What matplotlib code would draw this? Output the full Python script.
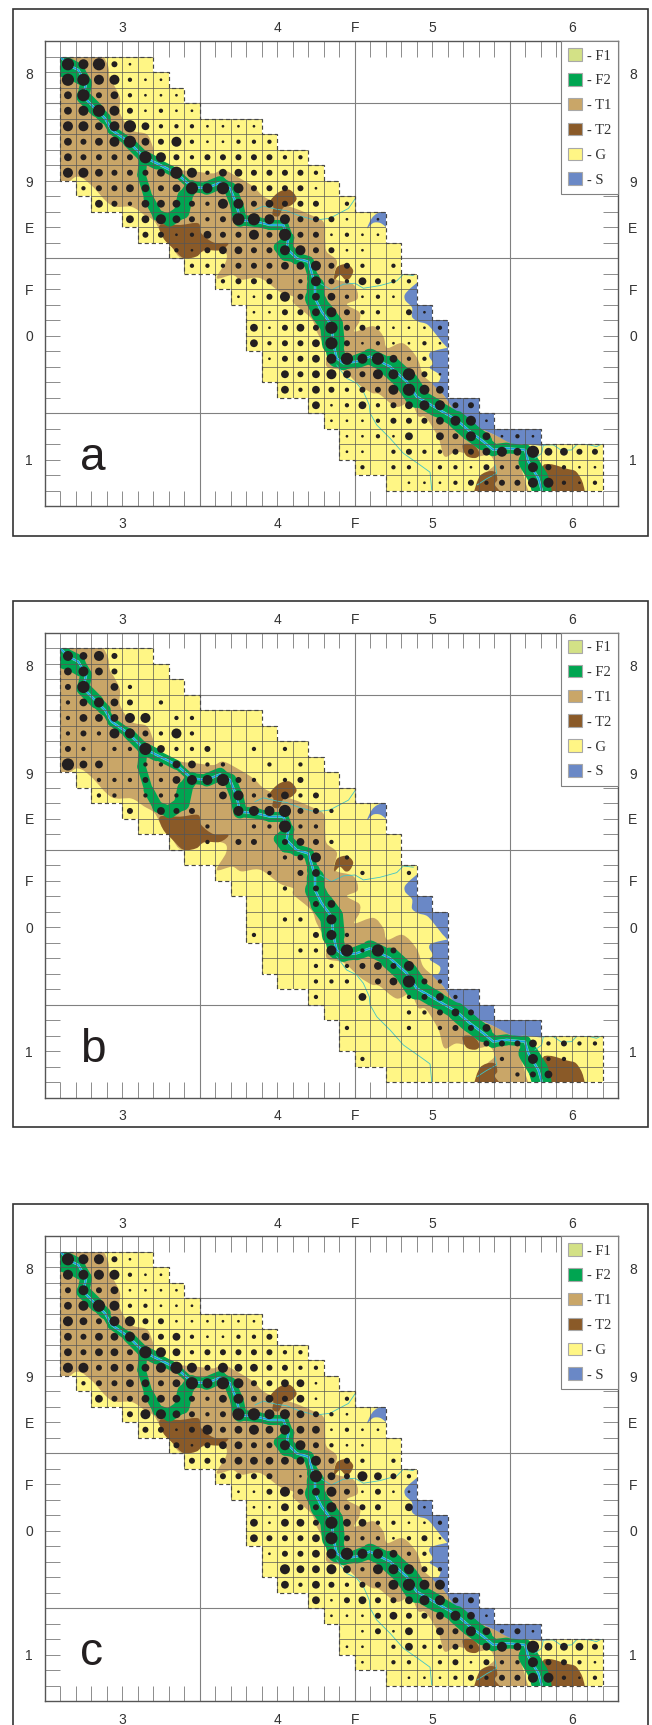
import numpy as np
import matplotlib
matplotlib.use('Agg')
import matplotlib.pyplot as plt
from matplotlib.collections import LineCollection
from matplotlib.patches import PathPatch, Patch, Rectangle
from matplotlib.path import Path

plt.rcParams['font.family'] = ['Liberation Sans', 'DejaVu Sans']

# surveyed cells: first and last column of rows 1..28
ROW_FIRST = [1, 1, 1, 1, 1, 1, 1, 1, 2, 3, 5, 6, 8, 9, 11, 12, 13, 13, 13, 14, 14, 15, 17, 18, 19, 19, 20, 22]
ROW_LAST = [6, 7, 8, 9, 13, 14, 16, 17, 18, 19, 21, 21, 22, 22, 23, 23, 24, 25, 25, 25, 25, 25, 27, 28, 31, 35, 35, 35]

# dot class per cell, one string per row, 0 = no dot
DOTS_A = ["656310", "6655211", "46342111", "456531211", "5545642221111", "43456435211222",
          "4333365323333322", "55433346524433332", "23344346565333310", "43244432553433302",
          "44543236655333101", "3312433536331211", "213443355331100", "22233344533202",
          "2333025324322", "113534421210", "113345322031", "4134363321112", "4233463121121",
          "133456564220", "043454355631", "42432335654", "41242345533", "11123334551",
          "1121404354121", "11023223345464433", "2022022132253211", "01112323355212"]
DOTS_B = ["545300", "4543000", "36042000", "245430200", "2444550220000", "23255325200000",
          "3202264223002020", "64400224422002020", "02223245563202300", "22022200452242300",
          "30433005556332000", "0000200226220000", "002033034320000", "00000023502000",
          "0002034002002", "000203000000", "000034000000", "0022050000000", "2000352000000",
          "002256263000", "000222343500", "00222034632", "20040023420", "00000223430",
          "2000202334000", "00000000033342322", "2000000002052200", "00000000234000"]
DOTS_C = ["655310", "5555211", "35341111", "456522111", "5435533111111", "43445434211223",
          "4344365423333322", "55344456535443322", "23344346565334410", "43344432453434102",
          "35543236655432100", "3313534545441211", "313443355321100", "33344444533202",
          "3333016435432", "113534531311", "114335333041", "4144364422112", "4333463221231",
          "133456554220", "054454255532", "42432335655", "41343345533", "11134334541",
          "0131404354231", "11024223245464443", "1022023132253321", "01112323355212"]
PANEL_NAMES = ['a', 'b', 'c']
PANEL_DOTS = [DOTS_A, DOTS_B, DOTS_C]

# map outlines, in grid cells
T1_OUTLINE = [(0.5, 0.5), (3.5, 0.5), (3.8, 1), (4.1, 1.65), (4.2, 2.4), (4.5, 2.9), (4.86, 3.7), (4.86, 4.67),
              (5.6, 5.74), (6.58, 6.02), (6.97, 6.82), (7.23, 7.68), (8.52, 8.26), (9.8, 8.43), (10.88, 8.54),
              (11.53, 8.32), (12.6, 8.86), (13.46, 9.4), (14.32, 10.15), (16.15, 10.8), (17.1, 11.2), (18, 11.7),
              (18.1, 12.9), (18.2, 13.6), (18.85, 14.2), (18.7, 15.3), (19.9, 15.7), (20.2, 16.6), (19.5, 17),
              (20.3, 17.5), (20.3, 18.1), (20, 18.75), (21.2, 18.4), (21.85, 19.07), (22.1, 19.8), (23.1, 19.5),
              (24, 20.4), (24.4, 21.5), (25, 22.1), (25.7, 22.8), (26.4, 23.8), (27.2, 24.4), (27.9, 24.9),
              (29, 25.4), (30.2, 26), (31, 26.7), (30.8, 27.6), (31, 28.4), (31.1, 29.5), (29, 29.5), (28.5, 28),
              (29, 27.35), (28.7, 26.7), (27.9, 26.8), (26.6, 26.5), (25.8, 26.8), (25.4, 25.6), (24.6, 24.3),
              (24.1, 24.2), (23.6, 23.3), (22.7, 23.6), (21.6, 22.8), (21.1, 22.7), (20.3, 22.2), (19.3, 21.3),
              (18.2, 21), (18.2, 20), (17.55, 18.75), (17.2, 17.9), (16.05, 16.9), (16.05, 16.5), (15.2, 16.2),
              (13.9, 15.3), (12.7, 15.4), (12.1, 15.1), (11.1, 15.3), (11.7, 14.2), (11.6, 13.6), (10.5, 13.5),
              (8.9, 14), (8.2, 13.3), (7.65, 12.7), (7.1, 11.65), (6.4, 11.2), (5.6, 10.7), (4.3, 10.6),
              (3, 9.3), (2.1, 8.75), (0.5, 9)]
T2_BLOBS = [
    [(7.44, 11.87), (8.73, 11.87), (9.9, 11.76), (10.1, 12.4), (10.9, 13), (11.85, 13.05), (11.3, 13.5),
     (10.3, 13.5), (9.8, 13.9), (8.95, 14), (8.2, 13.3), (7.65, 12.7)],
    [(14.5, 10.4), (15.1, 9.75), (15.8, 9.6), (16.25, 10.15), (15.9, 10.6), (15.4, 10.75), (15.1, 11.3),
     (14.7, 11.2), (14.75, 10.7)],
    [(18.7, 15), (18.9, 14.55), (19.5, 14.4), (19.9, 14.8), (19.7, 15.3), (19.4, 15.4), (19.05, 15.1), (18.7, 15.4)],
    [(26.97, 26.06), (27.65, 26.06), (28.05, 26.6), (27.8, 26.9), (27.2, 26.75)],
    [(27.8, 29.4), (28, 28.2), (28.5, 27.8), (29.05, 27.8), (29.2, 28.3), (29.05, 28.64), (29.5, 29.4)],
    [(32.1, 27.56), (32.6, 27.3), (33.7, 27.6), (34.3, 27.8), (34.75, 28.64), (34.6, 29.4), (32.2, 29.4)],
]
S_BLOBS = [
    [(24.4, 15.5), (23.35, 16.2), (23.25, 16.7), (23.7, 17.2), (23.7, 17.8), (24.1, 18.1), (24.7, 18.3), (25.3, 19),
     (25.8, 19.6), (26.5, 20.1), (26.8, 18), (25.5, 16.5)],
    [(26.5, 19.95), (25.1, 20), (24.8, 20.3), (25.05, 20.8), (24.85, 21.1), (25.5, 21.55), (25.4, 22), (25, 22.1),
     (25.7, 22.8), (26.4, 23.8), (27.2, 24.4), (27.9, 24.9), (29, 25.4), (30.2, 26), (31, 26), (32.5, 26),
     (33, 24.5), (29.5, 23.5), (27, 22)],
    [(20.8, 12.08), (21.1, 11.44), (21.5, 11.1), (22.3, 10.9), (22.3, 12.1), (21.7, 11.76), (21.4, 11.7), (21.15, 11.76)],
]

# main river centreline and width of the F2 belt along it
RIVER_X = [1.01, 1.53, 2.17, 2.67, 2.49, 3.35, 3.89, 4.32, 5.4, 6.37, 7.23, 8.52, 9.48, 10.45, 11.31, 11.96, 12.39,
           12.6, 13.68, 14.54, 15.4, 15.72, 15.61, 16.26, 17.01, 17.33, 17.44, 17.44, 17.87, 18.51, 18.62, 18.84,
           19.27, 20.13, 20.99, 22.28, 23.35, 24, 25.29, 26.58, 27.44, 28.3, 28.94, 29.8, 30.99, 31.2, 31.85, 32.06]
RIVER_Y = [1.01, 1.55, 1.87, 2.73, 3.59, 4.45, 4.99, 5.74, 6.49, 7.46, 7.89, 8.54, 9.4, 9.5, 9.14, 9.5, 10.58, 11.55,
           11.66, 11.87, 11.87, 12.73, 13.38, 14.02, 14.24, 15.31, 15.74, 16.6, 17.46, 18.32, 19.5, 20.47, 20.79,
           20.68, 20.36, 21, 21.97, 22.94, 23.69, 24.45, 25.2, 25.84, 26.38, 26.27, 26.38, 27.13, 28.21, 28.96]
F2_WIDTH = [0.55, 1.0, 0.8, 0.75, 0.8, 1.0, 0.5, 0.5, 0.65, 0.8, 0.8, 0.45, 0.5, 0.9, 0.8, 0.65, 1.0, 0.75, 0.65, 0.65,
            0.65, 0.65, 0.8, 0.8, 0.65, 0.65, 1.0, 1.25, 1.35, 1.6, 1.35, 1.0, 0.8, 0.8, 1.0, 1.05, 1.7, 1.25, 1.0, 1.05,
            1.3, 1.0, 0.65, 0.8, 0.5, 1.05, 1.5, 1.05]

# side belts of F2: loop below the river and the patch near column 16
F2_BRANCHES = [
    ([6.37, 6.25, 6.7, 7.3, 8.05, 8.85, 9.05, 9.48], [7.46, 8.65, 10.15, 11.25, 11.55, 11.0, 10.05, 9.4],
     [0.6, 0.5, 0.6, 0.7, 0.75, 0.95, 1.05, 0.65]),
    ([15.8, 15.1, 15.5, 16.26], [12.7, 13.3, 13.85, 14.0], [0.6, 0.65, 0.65, 0.6]),
    ([1.0, 1.6, 2.3], [1.9, 2.1, 2.5], [0.75, 0.7, 0.6]),
]

# thin tributaries
TRIBUTARIES = [
    [(13.57, 10.9), (14.1, 10.65), (14.97, 10.86), (15.6, 10.95), (16.47, 11.29), (17.44, 11.55), (18.4, 11.44),
     (18.84, 11.2), (19.6, 10.8), (20.04, 10.16)],
    [(17.76, 15.63), (18.5, 16.06), (19.27, 15.69), (20.02, 15.63), (20.56, 15.95), (21.63, 15.78), (22.71, 15.48),
     (23.14, 15.05), (23.78, 15.13)],
    [(18.84, 20.9), (19.48, 21.76), (20.13, 22.08), (20.56, 22.62), (20.94, 23.48), (20.99, 24.01), (21.42, 24.77),
     (22.28, 25.63), (23.14, 26.6), (24.21, 27.35), (24.86, 27.82), (24.97, 28.96)],
    [(31.63, 26.92), (32.06, 26.6), (32.17, 26.06), (32.82, 26.06), (33.35, 26.42), (34, 26.38), (34.36, 26),
     (35.18, 26.06), (35.6, 26.17), (35.93, 26)],
    [(29.05, 27.35), (29.16, 27.89), (28.5, 28.25), (27.9, 28.64)],
]

X_TICKS = [5, 15, 20, 25, 34]
X_LABELS = ['3', '4', 'F', '5', '6']
Y_TICKS = [2.2, 9.15, 12.1, 16.1, 19.1, 27.1]
Y_LABELS = ['8', '9', 'E', 'F', '0', '1']
LEGEND_LABELS = ['- F1', '- F2', '- T1', '- T2', '- G', '- S']
LEGEND_COLORS = ['#d3e186', '#00a551', '#c9a668', '#8a5a28', '#fff685', '#6a88c6']
DOT_DIAMETERS = [0, 2.7, 4.3, 6.0, 7.8, 10.0, 12.2]   # px per class

W, H = 652, 1725
CELL = 15.5        # px per grid cell
LEFT, TOP = 44.7, 41
PANEL_OFFSETS = [0, 591.7, 1195]
PX = 0.72          # points per px at dpi 100
T1_COL, T2_COL, F2_COL, G_COL, S_COL = '#c9a668', '#8a5a28', '#00a551', '#fff685', '#6a88c6'


def smooth_path(points):
    # closed Catmull-Rom outline as bezier curves
    pts = np.array(points, dtype=float)
    n = len(pts)
    verts = [pts[0]]
    codes = [Path.MOVETO]
    for i in range(n):
        p0, p1, p2, p3 = pts[i - 1], pts[i], pts[(i + 1) % n], pts[(i + 2) % n]
        verts += [p1 + (p2 - p0) / 6, p2 - (p3 - p1) / 6, p2]
        codes += [Path.CURVE4] * 3
    return Path(verts, codes)


def region_outline():
    # stepped outline of the surveyed cells
    verts = []
    for r, last in enumerate(ROW_LAST, start=1):
        verts += [(last + 1, r), (last + 1, r + 1)]
    for r, first in reversed(list(enumerate(ROW_FIRST, start=1))):
        verts += [(first, r + 1), (first, r)]
    verts.append(verts[0])
    return Path(verts, closed=True)


def belt(ax, xs, ys, widths, clip):
    xs, ys, widths = np.array(xs), np.array(ys), np.array(widths)
    segs = np.stack([np.column_stack([xs[:-1], ys[:-1]]), np.column_stack([xs[1:], ys[1:]])], axis=1)
    lw = (widths[:-1] + widths[1:]) / 2 * CELL * PX
    lc = LineCollection(segs, linewidths=lw, colors=F2_COL, capstyle='round', zorder=5)
    ax.add_collection(lc)
    lc.set_clip_path(clip)


def draw_panel(ax, name, dots):
    ax.set_xlim(0, 37)
    ax.set_ylim(30, 0)
    ax.set_xticks([])
    ax.set_yticks([])
    for s in ax.spines.values():
        s.set_color('#555555')
        s.set_linewidth(1.0)

    # surveyed area
    outline = region_outline()
    region = PathPatch(outline, facecolor=G_COL, edgecolor='none', zorder=1)
    ax.add_patch(region)

    # geology layers
    p = PathPatch(smooth_path(T1_OUTLINE), facecolor=T1_COL, edgecolor='none', zorder=2)
    ax.add_patch(p)
    p.set_clip_path(region)
    for blob in S_BLOBS:
        p = PathPatch(smooth_path(blob), facecolor=S_COL, edgecolor='none', zorder=3)
        ax.add_patch(p)
        p.set_clip_path(region)
    for blob in T2_BLOBS:
        p = PathPatch(smooth_path(blob), facecolor=T2_COL, edgecolor='none', zorder=4)
        ax.add_patch(p)
        p.set_clip_path(region)

    belt(ax, RIVER_X, RIVER_Y, F2_WIDTH, region)
    for bx, by, bw in F2_BRANCHES:
        belt(ax, bx, by, bw, region)

    # rivers
    for trib in TRIBUTARIES:
        tx, ty = zip(*trib)
        line, = ax.plot(tx, ty, color='#3fc4c8', lw=0.6, zorder=6)
        line.set_clip_path(region)
    halo, = ax.plot(RIVER_X, RIVER_Y, color='#a8e0cc', lw=1.7, zorder=6, solid_joinstyle='round')
    halo.set_clip_path(region)
    river, = ax.plot(RIVER_X, RIVER_Y, color='#14a5e0', lw=1.2, zorder=6, solid_joinstyle='round')
    river.set_clip_path(region)

    # grid inside the area, ticks round it
    gv = ax.vlines(range(1, 37), 1, 29, color='#555555', lw=0.5, zorder=7)
    gh = ax.hlines(range(1, 30), 1, 36, color='#555555', lw=0.5, zorder=7)
    gv.set_clip_path(region)
    gh.set_clip_path(region)
    tick_col = '#8c8c8c'
    ax.vlines(range(1, 37), 0, 1, color=tick_col, lw=0.7, zorder=0.5)
    ax.vlines(range(1, 37), 29, 30, color=tick_col, lw=0.7, zorder=0.5)
    ax.hlines(range(1, 30), 0, 1, color=tick_col, lw=0.7, zorder=0.5)
    ax.hlines(range(1, 30), 36, 37, color=tick_col, lw=0.7, zorder=0.5)
    ax.vlines([10, 20, 30], 0, 30, color='#808080', lw=0.8, zorder=0.6)
    ax.hlines([4, 14, 24], 0, 37, color='#808080', lw=0.8, zorder=0.6)

    # dots
    xs, ys, sizes = [], [], []
    for r, (first, row) in enumerate(zip(ROW_FIRST, dots), start=1):
        for i, ch in enumerate(row):
            if ch != '0':
                xs.append(first + i + 0.5)
                ys.append(r + 0.5)
                sizes.append((DOT_DIAMETERS[int(ch)] * PX) ** 2)
    ax.scatter(xs, ys, s=sizes, color='#231f20', linewidths=0, zorder=8)

    ax.add_patch(PathPatch(outline, facecolor='none', edgecolor='#454545', lw=0.85,
                           linestyle=(0, (3.5, 2.5)), zorder=9))

    # labels round the frame
    xt = ax.get_xaxis_transform()
    yt = ax.get_yaxis_transform()
    for x, lab in zip(X_TICKS, X_LABELS):
        ax.text(x, 1.0 + 12.5 / (30 * CELL), lab, transform=xt, ha='center', va='center', fontsize=10, color='#333333')
        ax.text(x, -18.5 / (30 * CELL), lab, transform=xt, ha='center', va='center', fontsize=10, color='#333333')
    for y, lab in zip(Y_TICKS, Y_LABELS):
        ax.text(-15.7 / (37 * CELL), y, lab, transform=yt, ha='center', va='center', fontsize=10, color='#333333')
        ax.text(1.0 + 14.7 / (37 * CELL), y, lab, transform=yt, ha='center', va='center', fontsize=10, color='#333333')

    ax.text(2.28, 27.7, name, fontsize=33, color='#231f20', ha='left', va='baseline', zorder=10)

    handles = [Patch(facecolor=c, edgecolor='#a8a8a8', lw=0.8) for c in LEGEND_COLORS]
    leg = ax.legend(handles, LEGEND_LABELS, loc='upper right', bbox_to_anchor=(1, 1), borderaxespad=0,
                    borderpad=0.5, handlelength=0.95, handleheight=0.95, handletextpad=0.3, labelspacing=0.72,
                    fancybox=False, framealpha=1, edgecolor='#808080',
                    prop={'family': 'Liberation Serif', 'size': 10.5})
    leg.set_zorder(20)
    leg.get_frame().set_linewidth(0.8)
    for t in leg.get_texts():
        t.set_color('#333333')


fig = plt.figure(figsize=(W / 100, H / 100), dpi=100)
for name, dots, off in zip(PANEL_NAMES, PANEL_DOTS, PANEL_OFFSETS):
    # outer frame
    fig.add_artist(Rectangle((13 / W, 1 - (535.7 + off) / H), 635.3 / W, 526.4 / H, transform=fig.transFigure,
                             facecolor='none', edgecolor='#333333', lw=1.2))
    ax = fig.add_axes([LEFT / W, 1 - (TOP + off + 30 * CELL) / H, 37 * CELL / W, 30 * CELL / H])
    draw_panel(ax, name, dots)

fig.savefig('out.png', dpi=100)
